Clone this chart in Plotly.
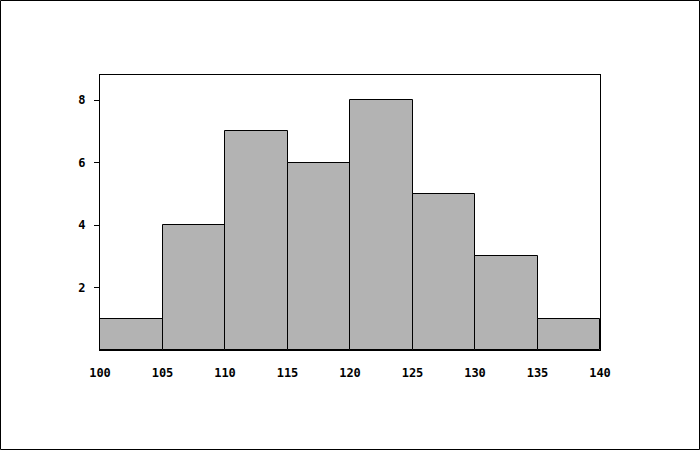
import plotly.graph_objects as go

bin_edges = [100, 105, 110, 115, 120, 125, 130, 135, 140]
counts = [1, 4, 7, 6, 8, 5, 3, 1]
x_ticks = [100, 105, 110, 115, 120, 125, 130, 135, 140]
y_ticks = [2, 4, 6, 8]

centers = [(a + b) / 2 for a, b in zip(bin_edges[:-1], bin_edges[1:])]
widths = [b - a for a, b in zip(bin_edges[:-1], bin_edges[1:])]

fig = go.Figure(go.Bar(
    x=centers, y=counts, width=widths,
    marker=dict(color="#b3b3b3", line=dict(color="black", width=1)),
    hoverinfo="skip",
))

font = dict(family="DejaVu Sans Mono", size=12, color="black", weight="bold")

fig.update_layout(
    width=700, height=450,
    margin=dict(l=100, r=100, t=75, b=100),
    paper_bgcolor="white", plot_bgcolor="white",
    showlegend=False, bargap=0,
    font=font,
    xaxis=dict(range=[100, 140], tickvals=x_ticks, ticks="", showgrid=False,
               zeroline=False, showline=True, linecolor="black", linewidth=1,
               mirror=True, tickfont=font, ticklabelstandoff=12),
    yaxis=dict(range=[0, 8.8], tickvals=y_ticks, ticks="outside", ticklen=5,
               tickcolor="black", tickwidth=1, showgrid=False, zeroline=False,
               showline=True, linecolor="black", linewidth=1, mirror=True,
               tickfont=font, ticklabelstandoff=6),
    shapes=[dict(type="rect", xref="paper", yref="paper",
                 x0=-0.199, x1=1.199, y0=(350 - 449.5) / 275, y1=(350 - 0.5) / 275,
                 line=dict(color="black", width=1), fillcolor="rgba(0,0,0,0)",
                 layer="above")],
)

fig.write_html("out.html", config={"displayModeBar": False},
               post_script="document.body.style.margin='0';")
